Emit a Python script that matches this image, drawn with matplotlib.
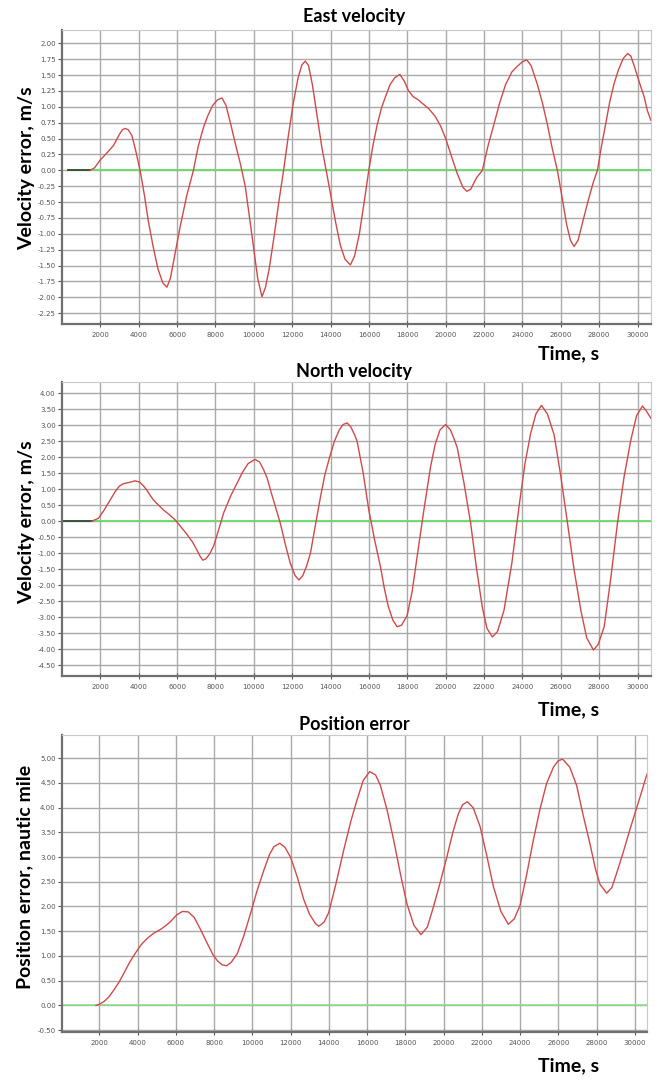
import matplotlib
matplotlib.use("Agg")
import matplotlib.pyplot as plt
from matplotlib.ticker import FormatStrFormatter

# East velocity error (m/s)
east_t = [1460, 1700, 1985, 2300, 2680, 3000, 3150, 3290, 3450, 3640, 3850, 4070,
          4300, 4500, 4750, 5000, 5250, 5470, 5650, 5900, 6150, 6500, 6850, 7100,
          7380, 7600, 7850, 8100, 8340, 8550, 8800, 9050, 9300, 9550, 9800, 10000,
          10200, 10420, 10600, 10800, 11050, 11300, 11550, 11800, 12050, 12300,
          12500, 12680, 12850, 13050, 13300, 13550, 13800, 14000, 14250, 14500,
          14750, 15030, 15250, 15500, 15750, 15990, 16200, 16430, 16650, 16860,
          17100, 17350, 17610, 17850, 18050, 18300, 18520, 18800, 19120, 19450,
          19730, 20000, 20300, 20600, 20900, 21100, 21300, 21600, 21910, 22200,
          22510, 22800, 23120, 23450, 23740, 24000, 24220, 24450, 24780, 25050,
          25300, 25550, 25820, 26050, 26300, 26500, 26690, 26900, 27150, 27450,
          27700, 27910, 28100, 28350, 28550, 28780, 29000, 29250, 29480, 29650,
          29850, 30100, 30350, 30500, 30690]
east_v = [0.00, 0.04, 0.16, 0.26, 0.39, 0.57, 0.64, 0.66, 0.64, 0.55, 0.30, 0.00,
          -0.40, -0.80, -1.20, -1.55, -1.77, -1.84, -1.70, -1.30, -0.90, -0.40, 0.00, 0.38,
          0.68, 0.86, 1.02, 1.11, 1.14, 1.02, 0.72, 0.40, 0.10, -0.25, -0.80, -1.25,
          -1.70, -1.99, -1.85, -1.55, -1.05, -0.50, 0.00, 0.55, 1.05, 1.45,
          1.66, 1.72, 1.65, 1.35, 0.85, 0.35, -0.05, -0.38, -0.80, -1.17,
          -1.40, -1.49, -1.35, -1.00, -0.50, 0.00, 0.38, 0.72, 0.98, 1.16,
          1.35, 1.46, 1.51, 1.40, 1.26, 1.16, 1.12, 1.05, 0.97, 0.85,
          0.70, 0.50, 0.22, -0.05, -0.27, -0.33, -0.30, -0.12, 0.00, 0.38,
          0.72, 1.05, 1.35, 1.55, 1.64, 1.71, 1.74, 1.65, 1.35, 1.05,
          0.72, 0.35, 0.00, -0.40, -0.85, -1.10, -1.20, -1.10, -0.80, -0.45,
          -0.18, 0.00, 0.35, 0.75, 1.08, 1.37, 1.58, 1.76, 1.84, 1.80,
          1.62, 1.38, 1.15, 0.95, 0.79]
east_init_t = [300, 1460]

# North velocity error (m/s)
north_t = [1560, 1900, 2200, 2510, 2800, 3000, 3200, 3500, 3810, 4050, 4250, 4420,
           4600, 4770, 5000, 5290, 5600, 5900, 6200, 6510, 6800, 7030, 7200, 7340,
           7500, 7700, 7900, 8150, 8420, 8800, 9120, 9400, 9700, 10060, 10300,
           10500, 10690, 10900, 11150, 11380, 11650, 11900, 12150, 12350, 12550,
           12750, 12950, 13200, 13470, 13700, 13950, 14200, 14450, 14650, 14860,
           15050, 15250, 15380, 15700, 15990, 16300, 16600, 16800, 17000, 17250,
           17470, 17700, 17990, 18250, 18510, 18850, 19210, 19450, 19700, 19990,
           20250, 20450, 20600, 20950, 21300, 21600, 21910, 22150, 22430, 22700,
           23040, 23450, 23820, 24130, 24430, 24700, 24990, 25300, 25650, 26000,
           26350, 26700, 27040, 27350, 27700, 27950, 28260, 28600, 28950, 29300,
           29650, 29950, 30260, 30450, 30690]
north_v = [0.00, 0.09, 0.35, 0.66, 0.95, 1.10, 1.17, 1.21, 1.26, 1.22, 1.10, 0.97,
           0.80, 0.66, 0.52, 0.35, 0.20, 0.04, -0.18, -0.41, -0.65, -0.90, -1.10, -1.22,
           -1.18, -1.02, -0.78, -0.30, 0.25, 0.80, 1.18, 1.52, 1.80, 1.93, 1.85,
           1.62, 1.35, 0.90, 0.40, -0.07, -0.75, -1.32, -1.70, -1.84, -1.70,
           -1.40, -1.00, -0.15, 0.75, 1.45, 2.00, 2.50, 2.85, 3.02, 3.07,
           2.95, 2.70, 2.50, 1.50, 0.35, -0.60, -1.43, -2.10, -2.65, -3.10,
           -3.30, -3.25, -2.95, -2.20, -1.11, 0.30, 1.70, 2.40, 2.85, 3.02,
           2.85, 2.55, 2.30, 1.20, -0.07, -1.45, -2.70, -3.35, -3.62, -3.45,
           -2.78, -1.30, 0.45, 1.80, 2.75, 3.35, 3.62, 3.35, 2.70, 1.40,
           -0.07, -1.55, -2.78, -3.65, -4.03, -3.85, -3.30, -1.80, -0.07, 1.40,
           2.54, 3.30, 3.60, 3.45, 3.22]
north_init_t = [50, 1560]

# Position error (nautic mile)
pos_t = [1830, 2000, 2260, 2500, 2780, 3050, 3300, 3600, 3910, 4200, 4520, 4850,
         5220, 5500, 5740, 6050, 6350, 6650, 6960, 7300, 7650, 7950, 8180, 8420,
         8660, 8900, 9220, 9550, 9910, 10250, 10610, 10900, 11130, 11440, 11700,
         12000, 12350, 12700, 13000, 13310, 13480, 13750, 14000, 14400, 14780,
         15150, 15480, 15800, 16140, 16450, 16700, 17050, 17390, 17750, 18090,
         18450, 18820, 19150, 19480, 19850, 20180, 20500, 20780, 21000, 21250,
         21550, 21910, 22250, 22610, 23000, 23390, 23700, 24000, 24350, 24700,
         25050, 25390, 25750, 26000, 26230, 26600, 26960, 27300, 27650, 27950,
         28180, 28530, 28800, 29050, 29400, 29740, 30200, 30640]
pos_v = [0.00, 0.02, 0.08, 0.17, 0.32, 0.48, 0.66, 0.88, 1.07, 1.23, 1.36, 1.46,
         1.54, 1.62, 1.70, 1.83, 1.90, 1.89, 1.78, 1.53, 1.25, 1.02, 0.90, 0.82,
         0.80, 0.87, 1.05, 1.40, 1.86, 2.32, 2.74, 3.05, 3.21, 3.28, 3.20,
         3.00, 2.60, 2.13, 1.84, 1.65, 1.60, 1.68, 1.88, 2.50, 3.14,
         3.72, 4.16, 4.55, 4.73, 4.66, 4.45, 3.95, 3.35, 2.65, 2.05,
         1.62, 1.43, 1.58, 2.00, 2.52, 3.01, 3.52, 3.88, 4.06, 4.12,
         4.00, 3.62, 3.05, 2.40, 1.90, 1.64, 1.75, 2.02, 2.65, 3.35,
         3.98, 4.49, 4.82, 4.95, 4.98, 4.82, 4.45, 3.85, 3.28, 2.75,
         2.45, 2.27, 2.38, 2.67, 3.10, 3.55, 4.12, 4.68]

x_ticks = list(range(2000, 30001, 2000))
east_yticks = [i * 0.25 for i in range(-9, 9)]
north_yticks = [i * 0.5 for i in range(-9, 9)]
pos_yticks = [i * 0.5 for i in range(-1, 11)]

W, H = 659, 1081
fig = plt.figure(figsize=(W / 100, H / 100), dpi=100)
bold = dict(family="Lato", weight="bold", color="black")


def make_axes(left, top, right, bottom):
    return fig.add_axes([left / W, 1 - bottom / H, (right - left) / W, (bottom - top) / H])


def style(ax, xlim, ylim, yticks):
    ax.set_xlim(*xlim)
    ax.set_ylim(*ylim)
    ax.set_xticks(x_ticks)
    ax.set_yticks(yticks)
    ax.yaxis.set_major_formatter(FormatStrFormatter('%.2f'))
    ax.grid(True, color='#a9a9a9', lw=1.0)
    ax.set_axisbelow(True)
    ax.tick_params(axis='y', labelsize=5, colors='#555555', length=3, width=0.8, pad=1.5)
    ax.tick_params(axis='x', labelsize=5, colors='#555555', length=4, width=0.8,
                   direction='inout', pad=4)
    for s in ('left', 'bottom'):
        ax.spines[s].set_color('#707070')
        ax.spines[s].set_linewidth(1.6)
    for s in ('top', 'right'):
        ax.spines[s].set_color('#c8c8c8')
        ax.spines[s].set_linewidth(0.8)


# East velocity
ax1 = make_axes(62, 30, 651, 324)
style(ax1, (0, 30700), (-2.42, 2.21), east_yticks)
ax1.plot([1460, 30700], [0, 0], color='#66dd66', lw=1.3)
ax1.plot(east_init_t, [0, 0], color='#2d4a2d', lw=1.3)
ax1.plot(east_t, east_v, color='#d04a4a', lw=1.0)
fig.text(354, H - 22, "East velocity", ha='center', va='baseline', fontsize=13, **bold,
         transform=None)

# North velocity
ax2 = make_axes(62, 382, 651, 676)
style(ax2, (0, 30700), (-4.84, 4.35), north_yticks)
ax2.plot([1700, 30700], [0, 0], color='#66dd66', lw=1.3)
ax2.plot(north_init_t, [0, 0], color='#2d4a2d', lw=1.3)
ax2.plot(north_t, north_v, color='#d04a4a', lw=1.0)
fig.text(354, H - 377, "North velocity", ha='center', va='baseline', fontsize=13, **bold,
         transform=None)

# Position error
ax3 = make_axes(62, 735, 647, 1032)
style(ax3, (50, 30640), (-0.54, 5.47), pos_yticks)
ax3.axhline(0, color='#88e088', lw=1.1)
ax3.plot(pos_t, pos_v, color='#d04a4a', lw=1.0)
fig.text(354, H - 730, "Position error", ha='center', va='baseline', fontsize=13, **bold,
         transform=None)

# axis labels
for yc in (354, 710, 1066):
    fig.text(569, H - yc, "Time, s", ha='center', va='center', fontsize=14, **bold,
             transform=None)
fig.text(27, H - 168, "Velocity error, m/s", rotation=90, ha='center', va='center',
         fontsize=14, **bold, transform=None)
fig.text(27, H - 522, "Velocity error, m/s", rotation=90, ha='center', va='center',
         fontsize=14, **bold, transform=None)
fig.text(25, H - 877, "Position error, nautic mile", rotation=90, ha='center', va='center',
         fontsize=14, **bold, transform=None)

fig.savefig("out.png", dpi=100, facecolor='white')
